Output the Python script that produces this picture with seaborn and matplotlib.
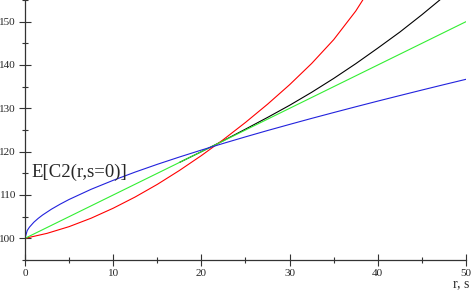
import matplotlib
matplotlib.use("Agg")
import matplotlib.pyplot as plt
import seaborn as sns
from matplotlib.ticker import MultipleLocator

# values
x_vals = [0, 2.5, 5, 7.5, 10, 12.5, 15, 17.5, 20, 22.5, 25, 27.5, 30,
          32.5, 35, 37.5, 40, 42.5, 45, 47.5, 50]
green_vals = [100, 102.5, 105, 107.5, 110, 112.5, 115, 117.5, 120, 122.5, 125,
              127.5, 130, 132.5, 135, 137.5, 140, 142.5, 145, 147.5, 150]
# black runs under the green line up to the crossing point
black_x = [17.5, 20, 22.5, 25, 27.5, 30, 32.5, 35, 37.5, 40, 42.5, 45, 47.5, 50]
black_vals = [117.5, 120, 122.55, 125.2, 127.9, 130.7, 133.7, 136.9, 140.3,
              143.9, 147.6, 151.6, 155.8, 160.2]
red_x = [0, 2.5, 5, 7.5, 10, 12.5, 15, 17.5, 20, 22.5, 25, 27.5, 30,
         32.5, 35, 37.5, 40]
red_vals = [100, 101.15, 102.7, 104.65, 106.95, 109.55, 112.45, 115.65, 119.1,
            122.8, 126.75, 130.95, 135.45, 140.35, 145.85, 152.45, 160.45]
blue_x = [0, 0.25, 0.5, 1, 1.5, 2, 3, 4, 5, 7.5, 10, 12.5, 15, 17.5, 20, 22.5,
          25, 27.5, 30, 32.5, 35, 37.5, 40, 42.5, 45, 47.5, 50]
blue_vals = [100, 101.79, 102.57, 103.71, 104.61, 105.39, 106.73, 107.9, 108.97,
             111.32, 113.39, 115.3, 117.08, 118.76, 120.37, 121.92, 123.42, 124.88,
             126.29, 127.68, 129.03, 130.36, 131.67, 132.95, 134.22, 135.47, 136.7]

sns.set_style("white")
plt.rcParams['font.family'] = ['Liberation Serif', 'DejaVu Serif']

fig = plt.figure(figsize=(4.72, 2.92), dpi=100)
ax = fig.add_axes([25 / 472, 32 / 292, 441 / 472, 260 / 292])

lw = 0.8
sns.lineplot(x=black_x, y=black_vals, color='black', lw=lw, ax=ax)
sns.lineplot(x=red_x, y=red_vals, color='#ff0000', lw=lw, ax=ax)
sns.lineplot(x=x_vals, y=green_vals, color='#33ee33', lw=lw, ax=ax)
sns.lineplot(x=blue_x, y=blue_vals, color='#2222dd', lw=lw, ax=ax)

ax.set_xlim(0, 50)
ax.set_ylim(95, 155)
for s in ['top', 'right']:
    ax.spines[s].set_visible(False)
for s in ['left', 'bottom']:
    ax.spines[s].set_color('#333333')
    ax.spines[s].set_linewidth(0.9)

ax.xaxis.set_major_locator(MultipleLocator(10))
ax.xaxis.set_minor_locator(MultipleLocator(5))
ax.set_yticks([100, 110, 120, 130, 140, 150])
ax.yaxis.set_minor_locator(MultipleLocator(5))
ax.tick_params(which='both', bottom=True, left=True, top=False, right=False)
ax.tick_params(which='major', direction='inout', length=8.5, width=0.8,
               color='#333333', labelsize=8, pad=2.2)
ax.tick_params(which='minor', direction='inout', length=5, width=0.8,
               color='#333333')
ax.tick_params(axis='x', which='major', pad=2)
ax.set_xlabel('')
ax.set_ylabel('')

ax.text(0.7, 114.2, 'E[C2(r,s=0)]', fontsize=13.5, ha='left', va='baseline',
        clip_on=False)
ax.text(49.5, 88.8, 'r, s', fontsize=10, ha='center', va='baseline',
        clip_on=False)

fig.savefig('out.png', dpi=100)
